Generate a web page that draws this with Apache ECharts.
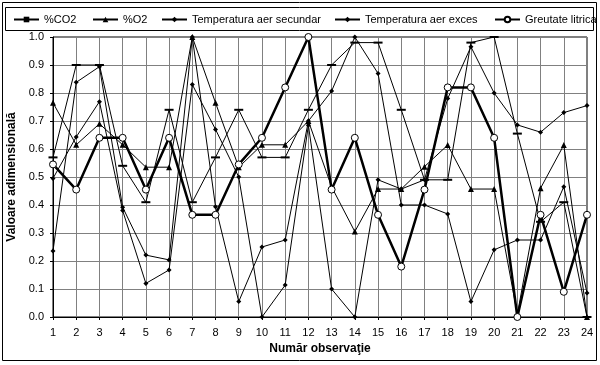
<!DOCTYPE html>
<html>
<head>
<meta charset="utf-8">
<script src="https://cdn.jsdelivr.net/npm/echarts@6/dist/echarts.min.js"></script>
<style>
html,body{margin:0;padding:0;background:#fff;}
#c{width:600px;height:365px;}
</style>
</head>
<body>
<div id="c"></div>
<script>
var categories = ['1','2','3','4','5','6','7','8','9','10','11','12','13','14','15','16','17','18','19','20','21','22','23','24'];
var yTicks = [0,0.1,0.2,0.3,0.4,0.5,0.6,0.7,0.8,0.9,1.0];
var seriesNames = ['%CO2','%O2','Temperatura aer secundar','Temperatura aer exces','Greutate litrica'];

var co2 = [0.57,0.90,0.90,0.54,0.41,0.74,0.41,0.57,0.74,0.57,0.57,0.74,0.90,0.98,0.98,0.74,0.49,0.49,0.98,1.00,0.655,0.34,0.41,0.00];
var o2 = [0.765,0.615,0.69,0.615,0.535,0.535,1.00,0.765,0.535,0.615,0.615,0.70,0.465,0.305,0.457,0.457,0.537,0.614,0.457,0.457,0.01,0.46,0.614,0.00];
var tempSecundar = [0.236,0.838,0.894,0.392,0.221,0.204,1.00,0.394,0.055,0.25,0.275,0.70,0.807,1.00,0.87,0.40,0.40,0.368,0.055,0.24,0.275,0.275,0.465,0.086];
var tempExces = [0.495,0.643,0.769,0.38,0.12,0.168,0.83,0.67,0.50,0.00,0.114,0.685,0.10,0.00,0.49,0.457,0.49,0.78,0.965,0.80,0.686,0.66,0.73,0.755];
var greutate = [0.545,0.455,0.64,0.64,0.455,0.64,0.365,0.365,0.545,0.64,0.82,1.00,0.455,0.64,0.365,0.18,0.455,0.82,0.82,0.64,0.00,0.365,0.09,0.365];

var FONT = 'Liberation Sans, Arial, sans-serif';
var chart = echarts.init(document.getElementById('c'), null, {renderer:'canvas'});

function thin(name, data, symbol, size, z){
  return {
    name: name, type: 'line', data: data, symbol: symbol, symbolSize: size,
    showAllSymbol: true, z: z,
    lineStyle: {color:'#000', width:1},
    itemStyle: {color:'#000', borderColor:'#000', borderWidth:0},
    emphasis: {disabled:true}
  };
}

var legendLefts = [13, 92, 161, 334, 494];
var legends = seriesNames.map(function(n,i){
  return {
    data:[n], left: legendLefts[i], top: 14, padding: 0, itemWidth: 25, itemHeight: 7, itemGap: 0,
    textStyle: {fontFamily: FONT, fontSize: 11, color:'#000'},
    selectedMode: false
  };
});

chart.setOption({
  animation: false,
  backgroundColor: '#fff',
  textStyle: {fontFamily: FONT},
  graphic: [
    {type:'rect', shape:{x:2.5,y:2.5,width:594,height:358}, style:{fill:'none', stroke:'#000', lineWidth:1}, z:-1},
    {type:'rect', shape:{x:5.5,y:7.5,width:588,height:23}, style:{fill:'#fff', stroke:'#000', lineWidth:1}, z:-1}
  ],
  legend: legends,
  grid: {left:53, right:13, top:37, bottom:48, containLabel:false, outerBoundsMode:'none', show:true, borderColor:'#000', borderWidth:1},
  xAxis: {
    type:'category', data: categories, boundaryGap:false,
    name:'Număr observaţie', nameLocation:'middle', nameGap:26,
    nameTextStyle:{fontFamily:FONT, fontSize:12, fontWeight:'bold', color:'#000'},
    axisLine:{lineStyle:{color:'#000', width:1}},
    axisTick:{show:true, length:3, interval:0, lineStyle:{color:'#000'}},
    axisLabel:{interval:0, fontFamily:FONT, fontSize:11, color:'#000', margin:10},
    splitLine:{show:true, interval:0, lineStyle:{color:'#808080', width:1}}
  },
  yAxis: {
    type:'value', min:0, max:1, interval:0.1,
    name:'Valoare adimensională', nameLocation:'middle', nameGap:29, nameRotate:90,
    nameTextStyle:{fontFamily:FONT, fontSize:12, fontWeight:'bold', color:'#000'},
    axisLine:{show:true, lineStyle:{color:'#000', width:1}},
    axisTick:{show:true, length:3, lineStyle:{color:'#000'}},
    axisLabel:{fontFamily:FONT, fontSize:11, color:'#000', margin:9, formatter:function(v){return v.toFixed(1);}},
    splitLine:{show:true, lineStyle:{color:'#808080', width:1}}
  },
  series: [
    thin(seriesNames[0], co2, 'rect', [9,2], 2),
    thin(seriesNames[1], o2, 'triangle', 6, 3),
    thin(seriesNames[2], tempSecundar, 'diamond', 5, 4),
    thin(seriesNames[3], tempExces, 'diamond', 5, 4),
    {
      name: seriesNames[4], type:'line', data: greutate, symbol:'circle', symbolSize:7,
      showAllSymbol:true, z:5,
      lineStyle:{color:'#000', width:2.5},
      itemStyle:{color:'#fff', borderColor:'#000', borderWidth:1},
      emphasis:{disabled:true}
    }
  ]
});
</script>
</body>
</html>
